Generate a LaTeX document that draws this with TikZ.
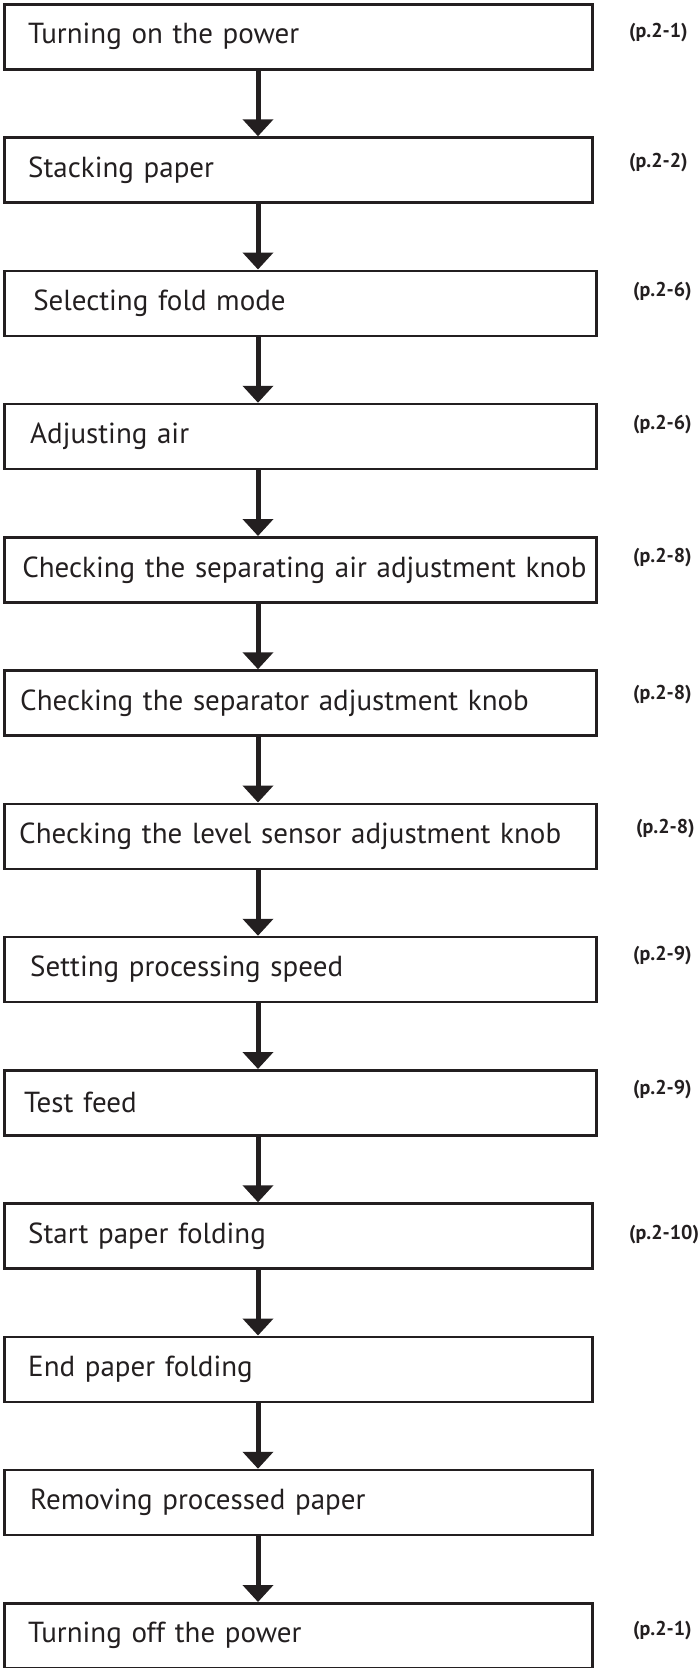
\documentclass[tikz,border=0pt]{standalone}
\usepackage{fontspec}
\setmainfont{PT Sans}
\usepackage{tikz}
\usetikzlibrary{arrows.meta, positioning}
\usepackage{xcolor}
\definecolor{inkblack}{HTML}{231F20}

\begin{document}
\begin{tikzpicture}[x=1pt, y=-1pt,
stepbox/.style={rectangle, draw=inkblack, line width=2.5pt, anchor=north west, minimum height=65pt, text width=580pt, inner xsep=4pt, align=left, text=inkblack, font=\fontsize{29}{34}\selectfont},
widebox/.style={stepbox, text width=584pt},
pagelabel/.style={anchor=west, inner sep=0pt, text=inkblack, font=\bfseries\fontsize{20}{24}\selectfont},
flowarrow/.style={draw=inkblack, line width=5pt, -{Triangle[width=30pt,length=17pt]}},
]
\useasboundingbox (0,0) rectangle (699,1668);

%Nodes
\node[stepbox] at (3,3) (S1) {\hspace*{20pt}Turning on the power};
\node[stepbox] at (3,136.25) (S2) {\hspace*{20pt}Stacking paper};
\node[widebox] at (3,269.5) (S3) {\hspace*{25pt}Selecting fold mode};
\node[widebox] at (3,402.75) (S4) {\hspace*{22pt}Adjusting air};
\node[widebox] at (3,536) (S5) {\hspace*{14pt}Checking the separating air adjustment knob};
\node[widebox] at (3,669.25) (S6) {\hspace*{12pt}Checking the separator adjustment knob};
\node[widebox] at (3,802.5) (S7) {\hspace*{11pt}Checking the level sensor adjustment knob};
\node[widebox] at (3,935.75) (S8) {\hspace*{22pt}Setting processing speed};
\node[widebox] at (3,1069) (S9) {\hspace*{16pt}Test feed};
\node[stepbox] at (3,1202.25) (S10) {\hspace*{20pt}Start paper folding};
\node[stepbox] at (3,1335.5) (S11) {\hspace*{20pt}End paper folding};
\node[stepbox] at (3,1468.75) (S12) {\hspace*{22pt}Removing processed paper};
\node[stepbox] at (3,1602) (S13) {\hspace*{20pt}Turning off the power};

%Page references
\node[pagelabel] at (629,33) (P1) {(p.2-1)};
\node[pagelabel] at (629,163) (P2) {(p.2-2)};
\node[pagelabel] at (633,292) (P3) {(p.2-6)};
\node[pagelabel] at (633,425) (P4) {(p.2-6)};
\node[pagelabel] at (633,558) (P5) {(p.2-8)};
\node[pagelabel] at (633,695) (P6) {(p.2-8)};
\node[pagelabel] at (636,829) (P7) {(p.2-8)};
\node[pagelabel] at (633,956) (P8) {(p.2-9)};
\node[pagelabel] at (633,1090) (P9) {(p.2-9)};
\node[pagelabel] at (629,1235) (P10) {(p.2-10)};
\node[pagelabel] at (633,1631) (P13) {(p.2-1)};

%Lines
\draw[flowarrow] ([xshift=255pt]S1.south west) -- ([xshift=255pt]S2.north west);
\draw[flowarrow] ([xshift=255pt]S2.south west) -- ([xshift=255pt]S3.north west);
\draw[flowarrow] ([xshift=255pt]S3.south west) -- ([xshift=255pt]S4.north west);
\draw[flowarrow] ([xshift=255pt]S4.south west) -- ([xshift=255pt]S5.north west);
\draw[flowarrow] ([xshift=255pt]S5.south west) -- ([xshift=255pt]S6.north west);
\draw[flowarrow] ([xshift=255pt]S6.south west) -- ([xshift=255pt]S7.north west);
\draw[flowarrow] ([xshift=255pt]S7.south west) -- ([xshift=255pt]S8.north west);
\draw[flowarrow] ([xshift=255pt]S8.south west) -- ([xshift=255pt]S9.north west);
\draw[flowarrow] ([xshift=255pt]S9.south west) -- ([xshift=255pt]S10.north west);
\draw[flowarrow] ([xshift=255pt]S10.south west) -- ([xshift=255pt]S11.north west);
\draw[flowarrow] ([xshift=255pt]S11.south west) -- ([xshift=255pt]S12.north west);
\draw[flowarrow] ([xshift=255pt]S12.south west) -- ([xshift=255pt]S13.north west);

\end{tikzpicture}
\end{document}
